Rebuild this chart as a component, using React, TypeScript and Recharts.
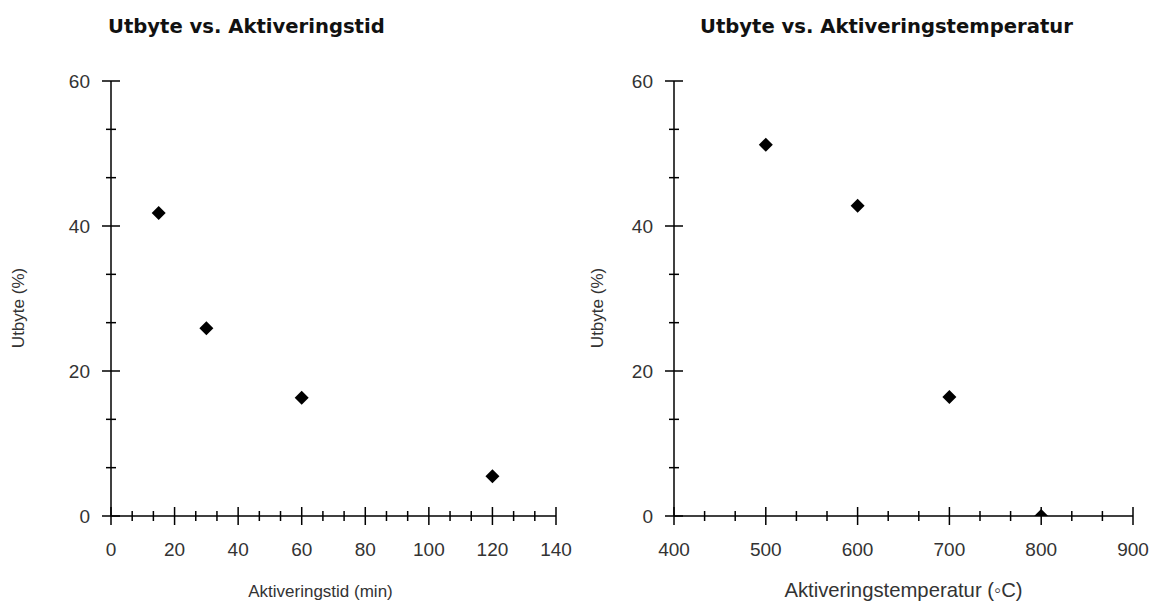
import { ScatterChart, Scatter, XAxis, YAxis } from "recharts";

// Utbyte vs. Aktiveringstid
const tidMin = [15, 30, 60, 120];
const tidUtbyte = [41.8, 25.9, 16.3, 5.5];

// Utbyte vs. Aktiveringstemperatur
const tempC = [500, 600, 700, 800];
const tempUtbyte = [51.2, 42.8, 16.4, 0];

const tidTicks = [0, 20, 40, 60, 80, 100, 120, 140];
const tempTicks = [400, 500, 600, 700, 800, 900];
const utbyteTicks = [0, 20, 40, 60];

const tidData = tidMin.map((x, i) => ({ x, y: tidUtbyte[i] }));
const tempData = tempC.map((x, i) => ({ x, y: tempUtbyte[i] }));

// two minor ticks between each pair of labelled ticks
const withMinor = (major: number[]) => {
  const out: number[] = [];
  major.forEach((v, i) => {
    out.push(v);
    if (i < major.length - 1) {
      const step = (major[i + 1] - v) / 3;
      out.push(v + step, v + 2 * step);
    }
  });
  return out;
};

const isMajor = (v: number, major: number[]) =>
  major.some((m) => Math.abs(m - v) < 1e-6);

const FONT = "'Liberation Sans', Arial, sans-serif";
const LABEL = "#333";

const makeXTick = (major: number[]) => (props: any) => {
  const { x, y, payload } = props;
  const big = isMajor(payload.value, major);
  const h = big ? 9 : 5;
  return (
    <g>
      <line x1={x} x2={x} y1={y - h} y2={y + h} stroke="#000" strokeWidth={1.5} />
      {big && (
        <text x={x} y={y + 40} textAnchor="middle" fontSize={19} fontFamily={FONT} fill={LABEL}>
          {payload.value}
        </text>
      )}
    </g>
  );
};

const makeYTick = (major: number[]) => (props: any) => {
  const { x, y, payload } = props;
  const big = isMajor(payload.value, major);
  const h = big ? 9 : 5;
  return (
    <g>
      <line x1={x - h} x2={x + h} y1={y} y2={y} stroke="#000" strokeWidth={1.5} />
      {big && (
        <text x={x - 21} y={y + 7} textAnchor="end" fontSize={19} fontFamily={FONT} fill={LABEL}>
          {payload.value}
        </text>
      )}
    </g>
  );
};

const Diamond = (props: any) => {
  const { cx, cy } = props;
  const r = 7;
  return <path d={`M${cx},${cy - r}L${cx + r},${cy}L${cx},${cy + r}L${cx - r},${cy}Z`} fill="#000" />;
};

interface PanelProps {
  left: number;
  width: number;
  axisWidth: number;
  rightMargin: number;
  title: string;
  titleX: number;
  xLabel: string;
  xLabelShift: number;
  xLabelSize: number;
  yLabelX: number;
  xDomain: [number, number];
  xMajor: number[];
  data: Array<{ x: number; y: number }>;
}

const Panel = (p: PanelProps) => (
  <div style={{ position: "absolute", left: p.left, top: 0, width: p.width, height: 602 }}>
    <div
      style={{
        position: "absolute",
        left: p.titleX,
        top: 17,
        fontFamily: "'DejaVu Sans', sans-serif",
        fontWeight: "bold",
        fontSize: 19.6,
        lineHeight: "20px",
        whiteSpace: "nowrap",
        color: "#111",
      }}
    >
      {p.title}
    </div>
    <ScatterChart
      width={p.width}
      height={602}
      margin={{ top: 81, right: p.rightMargin, bottom: 0, left: 0 }}
      style={{ position: "absolute", left: 0, top: 0 }}
    >
      <XAxis
        type="number"
        dataKey="x"
        domain={p.xDomain}
        ticks={withMinor(p.xMajor)}
        interval={0}
        height={86}
        tickSize={0}
        tickMargin={0}
        tickLine={false}
        axisLine={{ stroke: "#000", strokeWidth: 1.5 }}
        tick={makeXTick(p.xMajor)}
        label={{
          content: ({ viewBox }: any) => (
            <text
              x={viewBox.x + viewBox.width / 2 + p.xLabelShift}
              y={597}
              textAnchor="middle"
              fontSize={p.xLabelSize}
              fontFamily={FONT}
              fill={LABEL}
            >
              {p.xLabel}
            </text>
          ),
        }}
      />
      <YAxis
        type="number"
        dataKey="y"
        domain={[0, 60]}
        allowDataOverflow
        ticks={withMinor(utbyteTicks)}
        interval={0}
        width={p.axisWidth}
        tickSize={0}
        tickMargin={0}
        tickLine={false}
        axisLine={{ stroke: "#000", strokeWidth: 1.5 }}
        tick={makeYTick(utbyteTicks)}
        label={{
          content: () => (
            <text
              x={p.yLabelX}
              y={308}
              transform={`rotate(-90 ${p.yLabelX} 308)`}
              textAnchor="middle"
              dominantBaseline="central"
              fontSize={17}
              fontFamily={FONT}
              fill={LABEL}
            >
              Utbyte (%)
            </text>
          ),
        }}
      />
      <Scatter data={p.data} shape={<Diamond />} isAnimationActive={false} />
    </ScatterChart>
  </div>
);

export default function App() {
  return (
    <div style={{ position: "absolute", left: 0, top: 0, width: 1151, height: 602, background: "#fff" }}>
      <Panel
        left={0}
        width={575}
        axisWidth={111}
        rightMargin={19}
        title="Utbyte vs. Aktiveringstid"
        titleX={108}
        xLabel="Aktiveringstid (min)"
        xLabelShift={-13}
        xLabelSize={17}
        yLabelX={18}
        xDomain={[0, 140]}
        xMajor={tidTicks}
        data={tidData}
      />
      <Panel
        left={575}
        width={576}
        axisWidth={99}
        rightMargin={18}
        title="Utbyte vs. Aktiveringstemperatur"
        titleX={125}
        xLabel="Aktiveringstemperatur (◦C)"
        xLabelShift={0}
        xLabelSize={20.3}
        yLabelX={22}
        xDomain={[400, 900]}
        xMajor={tempTicks}
        data={tempData}
      />
    </div>
  );
}
